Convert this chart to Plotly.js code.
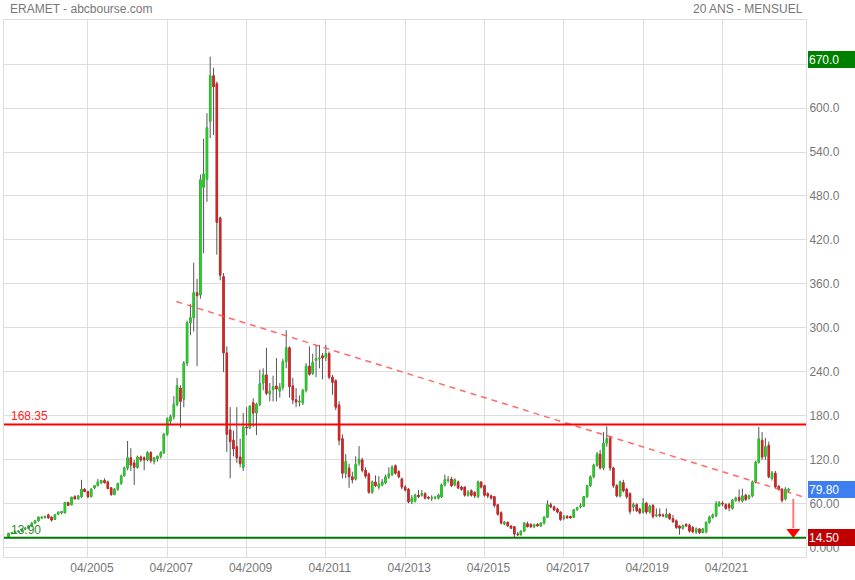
<!DOCTYPE html>
<html>
<head>
<meta charset="utf-8">
<script src="https://cdn.plot.ly/plotly-3.0.1.min.js"></script>
<style>
html,body{margin:0;padding:0;background:#fff;}
#chart{width:855px;height:580px;}
</style>
</head>
<body>
<div id="chart"></div>
<script>
// Monthly candles, first month = April 2003
const startYear = 2003, startMonth = 4;

const openVals = [
15.5,20,21,22.5,23,25.5,27,30,34,37,41,42,
45,42,39,46,48,48,62,59,70,67,70,80,
77,70,82,85,89,92,90,82,73,80,88,99,
109,123,116,110,124,123,120,130,118,122,125,130,
155,173,179,196,218,203,252,307,314,348,345,492,
503,582,644,633,450,370,266,161,147,138,124,110,
165,164,198,184,196,225,236,210,216,221,214,219,
254,273,221,202,199,198,215,248,238,256,258,262,
260,265,233,228,195,149,102,109,97,94,116,120,
106,101,76,90,83,86,89,97,100,112,104,94,
83,80,63,64,72,72,74,69,68,68,68,70,
86,92,94,86,90,83,83,72,78,76,70,90,
85,74,71,70,59,48,33,35,30,29,19,18,
23,33,32,29,32,30,34,42,59,56,53,49,
41,43,43,42,52,56,57,70,85,97,113,128,
109,143,150,109,85,71,89,80,74,56,59,53,
49,61,49,58,44,46,45,42,46,40,37,30,
27,32,31,28,22,26,21,22,35,42,44,58,
61,59,59,54,65,69,64,72,68,71,90,117,
147,125,140,95,102,84,80,67,78.5
];
const highVals = [
20.5,22,23.5,24,26,28,31,35,38,43,43,44,
47,43,46,49.5,50,63,63,70,72,72,93,82,
78,82,86,94,93,95,92,83,82,89,100,111,
146,136,120,126,126,125,132,132,124,126,132,157,
178,182,207,232,222,255,310,333,389,367,509,558,
593,670,655,636,452,375,275,192,160,192,149,184,
192,195,204,198,243,245,273,225,235,259,225,258,
297,275,232,218,208,217,252,275,265,277,277,266,
277,268,236,230,200,155,128,115,104,125,139,123,
110,103,92,99,98,94,100,110,113,114,106,96,
86,82,72,74,79,79,76,71,72,71,74,88,
100,98,97,95,92,85,84,79,80,77,92,91,
86,76,73,71,60,50,37,36,31,30,22,24,
35,36,34,33,34,35,43,65,62,58,55,50,
45,45,44,53,56,61,71,86,99,115,131,134,
158,166,153,111,87,92,93,82,76,62,61,55,
68,63,59,60,54,54,47,54,48,45,39,31,
32,34,33,30,28,27,27,36,44,47,64,64,
64,61,62,67,70,80,81,74,73,92,119,165,
158,150,145,105,105,86,82,83,82
];
const lowVals = [
13.9,18.5,20,21,22,24.5,26,29,33,36,39.5,40,
40,36,38,45,46,47,57,58,66,66,68,76,
68,69,80,84,87,88,80,71,72,78,86,97,
106,105,86,108,117,106,118,116,114,118,122,128,
153,168,175,193,164,192,248,290,295,248,340,402,
472,559,563,400,365,240,131,95,125,116,110,105,
154,162,165,154,193,215,208,200,200,200,205,215,
245,205,196,192,193,195,212,235,236,233,245,230,
255,230,209,188,140,95,95,82,88,92,112,103,
95,74,74,83,80,84,87,94,98,100,95,80,
77,61,60,62,68,70,66,66,64,66,66,68,
84,89,83,84,80,78,70,70,70,68,68,81,
70,68,66,55,44,32,31,29,26,15,16.5,17,
22,28,27,27,29,29,32,41,54,50,47,37,
38,40,40,41,51,54,56,68,83,95,111,107,
106,138,105,82,69,69,76,67,46,50,49,46,
47,46,47,40,42,42,42,41,38,34,26,18,
25,29,21,20,19,19,20,20,33,40,42,56,
57,52,50,52,63,62,62,64,66,69,88,115,
120,120,95,92,81,78,62,65,76
];
const closeVals = [
20,21,22.5,23,25.5,27,30,34,37,42,42,43,
41,38,45.5,49,49.5,62,58,69,67,71,80,77,
70,80,85,90,92,89,81,73,80,88,98,109,
123,113,110,124,120,120,130,119,123,125,130,155,
176,179,196,221,200,252,307,314,348,344,502,510,
573,644,629,444,372,266,155,145,135,123,115,165,
164,193,184,196,224,236,211,214,220,217,219,254,
273,220,202,199,200,215,248,237,253,258,259,259,
265,233,226,192,147,102,118,97,93,114,121,106,
98,76,90,85,87,90,97,101,110,102,97,83,
79,63,68,72,70,74,68,68,68.5,69,72,86,
93,93,85,93,82,80,72,76,72,71,90,83,
72,71,68,58,46,34,35,30,27,19,18,23,
34,29,29,32,30,34,42,59,56,52,49,39,
42,41,41,52,55,57,70,85,97,113,128,109,
143,149,109,85,71,90,78,70,50,59,51,48,
61,49,57,43,45,44,44,46,40,36,28,27,
30,30,23,22,26,21,26,35,42,45,60,62,
60,54,55,65,68,65,71,66,71,90,117,149,
124,138,97,102,83,80,65,80,79.8
];

// Axis ticks
const xTickDates = ['2005-04-01','2007-04-01','2009-04-01','2011-04-01','2013-04-01','2015-04-01','2017-04-01','2019-04-01','2021-04-01'];
const xTickLabels = ['04/2005','04/2007','04/2009','04/2011','04/2013','04/2015','04/2017','04/2019','04/2021'];
const yTickVals = [0,60,120,180,240,300,360,420,480,540,600,660];

// Levels and markers
const resistanceLevel = 168.35;
const supportLevel = 13.90;
const highestPrice = 670.0;
const lastPrice = 79.80;
const targetPrice = 14.50;
const trendDates = ['2007-06-25','2023-05-10'];
const trendValues = [336, 68.5];
const arrowDates = ['2023-01-13','2023-01-13'];
const arrowValues = [66.8, 27];
const arrowHeadValue = [21.8];

const dates = openVals.map((_, i) => {
  const m0 = startMonth - 1 + i;
  const y = startYear + Math.floor(m0 / 12);
  const m = (m0 % 12) + 1;
  return y + '-' + String(m).padStart(2, '0') + '-01';
});
// body extents (for a second pass that paints the bodies brighter over the grey outline)
const bodyTop = openVals.map((o, i) => Math.max(o, closeVals[i]));
const bodyBot = openVals.map((o, i) => Math.min(o, closeVals[i]));

const FONT = '"Liberation Sans", Arial, sans-serif';
const GREY = '#777777';
const GREEN = '#1fd81f', RED = '#e41e1e';

const traces = [
  {
    type: 'candlestick',
    x: dates, open: openVals, high: highVals, low: lowVals, close: closeVals,
    increasing: {line: {color: '#555555', width: 1}, fillcolor: GREEN},
    decreasing: {line: {color: '#555555', width: 1}, fillcolor: RED},
    whiskerwidth: 0,
    hoverinfo: 'skip',
    showlegend: false
  },
  {
    type: 'candlestick',
    x: dates, open: openVals, high: bodyTop, low: bodyBot, close: closeVals,
    increasing: {line: {color: GREEN, width: 0.6}, fillcolor: GREEN},
    decreasing: {line: {color: RED, width: 0.6}, fillcolor: RED},
    whiskerwidth: 0,
    hoverinfo: 'skip',
    showlegend: false
  },
  {
    type: 'scatter', mode: 'lines',
    x: trendDates, y: trendValues,
    line: {color: 'rgba(255,80,80,0.85)', width: 1.5, dash: '6px,5px'},
    hoverinfo: 'skip', showlegend: false
  },
  {
    type: 'scatter', mode: 'lines',
    x: arrowDates, y: arrowValues,
    line: {color: '#ff7b7b', width: 2},
    hoverinfo: 'skip', showlegend: false, cliponaxis: false
  },
  {
    type: 'scatter', mode: 'markers',
    x: [arrowDates[0]], y: arrowHeadValue,
    marker: {symbol: 'triangle-down', size: 12, color: '#ff0000', line: {width: 0}},
    hoverinfo: 'skip', showlegend: false, cliponaxis: false
  }
];

function priceBox(val, bg, yshift) {
  return {
    xref: 'paper', yref: 'y', x: 1, y: val, xanchor: 'left', yanchor: 'middle',
    xshift: 2, yshift: yshift || 0,
    text: val.toPrecision(4), showarrow: false,
    font: {family: FONT, size: 12, color: '#ffffff'},
    bgcolor: bg, borderpad: 1, borderwidth: 0,
    width: 45, height: 15, align: 'left'
  };
}

const layout = {
  width: 855, height: 580,
  margin: {l: 4, r: 49, t: 20, b: 23, pad: 0},
  paper_bgcolor: '#ffffff', plot_bgcolor: '#ffffff',
  font: {family: FONT, size: 12, color: GREY},
  showlegend: false,
  xaxis: {
    type: 'date',
    range: ['2003-02-18', '2023-05-10'],
    rangeslider: {visible: false},
    tickmode: 'array', tickvals: xTickDates, ticktext: xTickLabels,
    showgrid: true, gridcolor: '#dddddd', gridwidth: 1,
    showline: true, mirror: true, linecolor: '#dddddd', linewidth: 1,
    ticks: '', zeroline: false,
    ticklabelshift: 4,
    tickfont: {family: FONT, size: 12, color: GREY},
    fixedrange: true
  },
  yaxis: {
    side: 'right',
    range: [-12.3, 720],
    tickmode: 'array', tickvals: yTickVals,
    ticktext: yTickVals.map(v => v === 660 ? '' : v.toPrecision(4)),
    showgrid: true, gridcolor: '#dddddd', gridwidth: 1,
    showline: true, mirror: true, linecolor: '#dddddd', linewidth: 1,
    ticks: '', zeroline: false,
    tickfont: {family: FONT, size: 12, color: GREY},
    fixedrange: true
  },
  shapes: [
    {type: 'line', xref: 'paper', yref: 'y', x0: 0, x1: 1, y0: resistanceLevel, y1: resistanceLevel,
     line: {color: '#ff0000', width: 2}},
    {type: 'line', xref: 'paper', yref: 'y', x0: 0, x1: 1, y0: supportLevel, y1: supportLevel,
     line: {color: '#007a00', width: 2}}
  ],
  annotations: [
    {xref: 'paper', yref: 'paper', x: 0, y: 1, xanchor: 'left', yanchor: 'middle', xshift: 4, yshift: 11,
     text: 'ERAMET - abcbourse.com', showarrow: false, font: {family: FONT, size: 12, color: GREY}},
    {xref: 'paper', yref: 'paper', x: 1, y: 1, xanchor: 'right', yanchor: 'middle', xshift: -1, yshift: 11,
     text: '20 ANS - MENSUEL', showarrow: false, font: {family: FONT, size: 12, color: GREY}},
    {xref: 'paper', yref: 'y', x: 0, y: resistanceLevel, xanchor: 'left', yanchor: 'bottom', xshift: 5, yshift: 0,
     text: resistanceLevel.toFixed(2), showarrow: false, font: {family: FONT, size: 12, color: '#ff2020'}},
    {xref: 'paper', yref: 'y', x: 0, y: supportLevel, xanchor: 'left', yanchor: 'bottom', xshift: 5, yshift: -1,
     text: supportLevel.toFixed(2), showarrow: false, font: {family: FONT, size: 12, color: '#2a8a2a'}},
    priceBox(highestPrice, '#008000', -3),
    priceBox(lastPrice, '#3d7ff0', 0),
    priceBox(targetPrice, '#c00000', 0)
  ]
};

Plotly.newPlot('chart', traces, layout, {staticPlot: true, displayModeBar: false});
</script>
</body>
</html>
